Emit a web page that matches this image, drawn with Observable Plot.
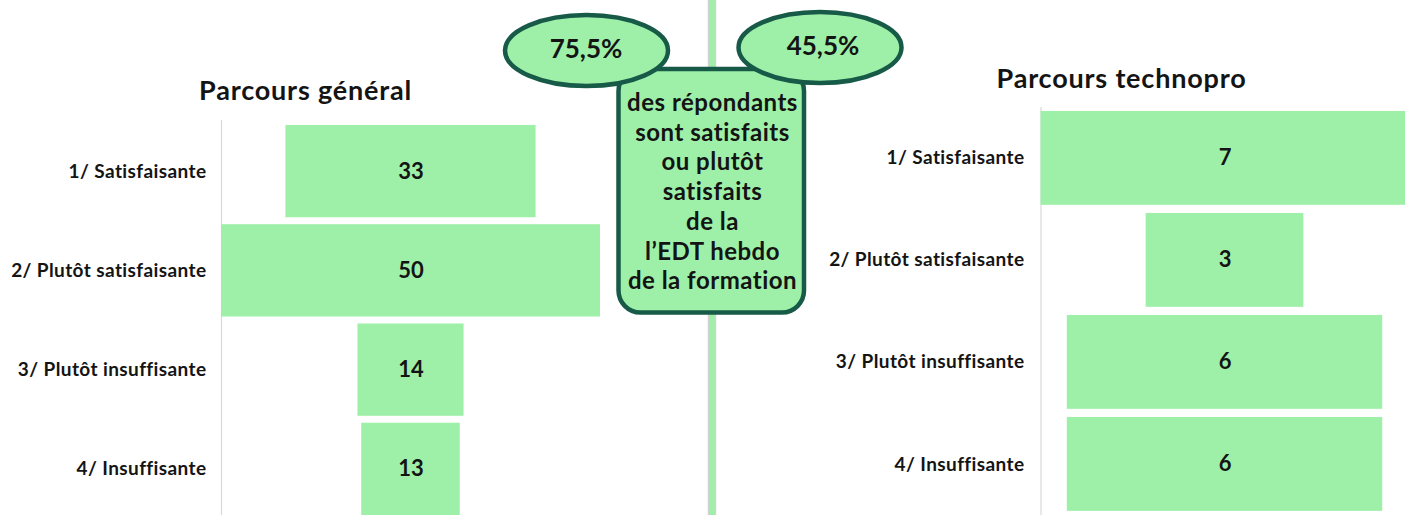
<!DOCTYPE html>
<html><head><meta charset="utf-8">
<script src="https://cdn.jsdelivr.net/npm/d3@7"></script>
<script src="https://cdn.jsdelivr.net/npm/@observablehq/plot@0.6"></script>
<style>
body{margin:0;background:#fff;}
#wrap{position:relative;width:1405px;height:515px;overflow:hidden;background:#fff;}
#wrap > svg{position:absolute;top:0;}
</style></head><body><div id="wrap"></div>
<script>
// ---- data ----
const categories = ["1/ Satisfaisante", "2/ Plutôt satisfaisante", "3/ Plutôt insuffisante", "4/ Insuffisante"];
const generalValues = [33, 50, 14, 13];
const technoValues = [7, 3, 6, 6];
const titles = ["Parcours général", "Parcours technopro"];
const percentLabels = ["75,5%", "45,5%"];
const calloutLines = ["des répondants", "sont satisfaits", "ou plutôt", "satisfaits", "de la", "l’EDT hebdo", "de la formation"];

const FONT = "Lato, 'Open Sans', sans-serif";
const GREEN = "#9ef0a8";
const DARK = "#175a48";
const INK = "#141414";

function funnel(values, o) {
  const data = categories.map((c, i) => ({c, v: values[i]}));
  const chart = Plot.plot({
    width: o.width, height: 515,
    marginLeft: o.marginLeft, marginTop: o.marginTop, marginBottom: 0, marginRight: 0,
    style: {background: "transparent", fontFamily: FONT},
    x: {domain: [-o.half, o.half], range: o.xRange, axis: null},
    y: {domain: categories, range: o.yRange, padding: o.pad, round: false},
    marks: [
      Plot.ruleX([-o.half], {stroke: "#d9d9d9", strokeWidth: 1.2}),
      Plot.barX(data, {x1: d => -d.v / 2, x2: d => d.v / 2, y: "c", fill: GREEN}),
      Plot.axisY({tickSize: 0, tickPadding: 15, fontSize: 19, fontWeight: "bold", fill: INK, label: null}),
      Plot.text(data, {x: 0, y: "c", text: d => String(d.v), fontSize: 22, fontWeight: "bold", fill: INK})
    ]
  });
  d3.select(chart).selectAll('[aria-label="y-axis tick label"] text').style("letter-spacing", "0.4px");
  return chart;
}

const wrap = document.getElementById("wrap");
const left = funnel(generalValues, {width: 705, marginLeft: 221, marginTop: 120, half: 25, xRange: [221, 600], yRange: [118, 522], pad: 0.07});
left.style.left = "0px";
wrap.appendChild(left);
const right = funnel(technoValues, {width: 700, marginLeft: 334, marginTop: 107, half: 3.5, xRange: [335.5, 703.5], yRange: [102.8, 519], pad: 0.08});
right.style.left = "705px";
wrap.appendChild(right);

// ---- annotation overlay ----
const svg = d3.select(wrap).append("svg")
  .attr("width", 1405).attr("height", 515)
  .style("left", "0px").style("pointer-events", "none")
  .style("font-family", FONT);

// titles
svg.selectAll("text.title").data(titles).join("text")
  .attr("class", "title")
  .attr("x", (d, i) => i === 0 ? 305.5 : 1121.5)
  .attr("y", (d, i) => i === 0 ? 100 : 87.5)
  .attr("text-anchor", "middle")
  .attr("font-size", 27).attr("font-weight", "bold").attr("fill", INK)
  .style("letter-spacing", "0.8px")
  .text(d => d);

// separator
svg.append("rect").attr("x", 708.5).attr("y", -2).attr("width", 7).attr("height", 520)
  .attr("fill", GREEN).attr("stroke", "#d2d2d2").attr("stroke-width", 1.5);

// callout box
svg.append("rect").attr("x", 618.5).attr("y", 69).attr("width", 185.5).attr("height", 243.5)
  .attr("rx", 22).attr("fill", GREEN).attr("stroke", DARK).attr("stroke-width", 4.5);
svg.selectAll("text.line").data(calloutLines).join("text")
  .attr("class", "line")
  .attr("x", 712.5).attr("y", (d, i) => 111 + i * 29.7)
  .attr("text-anchor", "middle")
  .attr("font-size", 24).attr("font-weight", "bold").attr("fill", INK)
  .style("letter-spacing", "0.5px")
  .text(d => d);

// ellipses with percentages
const ell = [{cx: 586.5, cy: 50.5, tx: 586, ty: 58}, {cx: 820, cy: 47.5, tx: 823, ty: 55}];
svg.selectAll("ellipse").data(ell).join("ellipse")
  .attr("cx", d => d.cx).attr("cy", d => d.cy).attr("rx", 81.5).attr("ry", 35.5)
  .attr("fill", GREEN).attr("stroke", DARK).attr("stroke-width", 4.5);
svg.selectAll("text.pct").data(percentLabels).join("text")
  .attr("class", "pct")
  .attr("x", (d, i) => ell[i].tx).attr("y", (d, i) => ell[i].ty)
  .attr("text-anchor", "middle")
  .attr("font-size", 26).attr("font-weight", "bold").attr("fill", INK)
  .text(d => d);
</script></body></html>
